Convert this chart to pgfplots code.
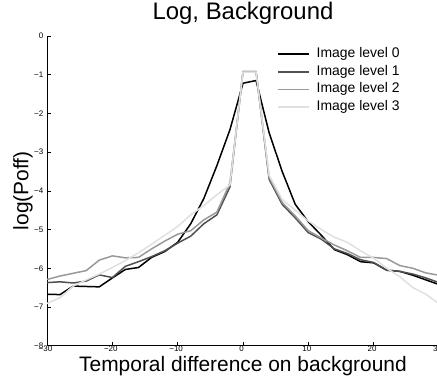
\documentclass[border=0pt]{standalone}
\usepackage{fontspec}
\setmainfont{Liberation Sans}
\usepackage{pgfplots}
\pgfplotsset{compat=1.18}
\usepackage{pgfplotstable}
\definecolor{lvA}{HTML}{505050}
\definecolor{lvB}{HTML}{999999}
\definecolor{lvC}{HTML}{E0E0E0}
\pgfplotstableread{
x l0 l1 l2 l3
-30 -6.67 -6.37 -6.29 -6.91
-28 -6.68 -6.35 -6.20 -6.76
-26 -6.46 -6.38 -6.13 -6.46
-24 -6.47 -6.33 -6.06 -6.30
-22 -6.48 -6.17 -5.79 -6.15
-20 -6.25 -6.24 -5.68 -5.98
-18 -6.03 -5.95 -5.73 -5.80
-16 -5.98 -5.83 -5.72 -5.60
-14 -5.72 -5.70 -5.50 -5.38
-12 -5.57 -5.55 -5.30 -5.15
-10 -5.33 -5.35 -5.12 -4.92
-8 -4.85 -5.17 -5.03 -4.62
-6 -4.20 -4.85 -4.75 -4.38
-4 -3.35 -4.62 -4.55 -4.10
-2 -2.42 -3.90 -3.80 -3.85
0 -1.22 -0.92 -0.92 -0.93
2 -1.15 -0.92 -0.92 -0.93
4 -2.50 -3.70 -3.65 -3.60
6 -3.50 -4.35 -4.30 -4.22
8 -4.35 -4.70 -4.65 -4.50
10 -4.80 -5.08 -5.03 -4.78
12 -5.15 -5.25 -5.22 -5.00
14 -5.52 -5.50 -5.40 -5.20
16 -5.65 -5.62 -5.55 -5.33
18 -5.83 -5.78 -5.72 -5.55
20 -5.86 -5.85 -5.72 -5.74
22 -6.05 -6.05 -5.75 -6.00
24 -6.08 -6.08 -5.93 -6.22
26 -6.18 -6.15 -6.00 -6.50
28 -6.30 -6.25 -6.12 -6.67
30 -6.42 -6.37 -6.18 -6.92
}\data
\begin{document}
\begin{tikzpicture}
\begin{axis}[
  scale only axis, width=392bp, height=309.7bp,
  at={(0,0)}, anchor=south west,
  xmin=-30, xmax=30, ymin=-8, ymax=0,
  xtick={-30,-20,...,30}, ytick={-8,-7,...,0},
  xticklabels={−30,−20,−10,0,10,20,30},
  yticklabels={−8,−7,−6,−5,−4,−3,−2,−1,0},
  axis x line=bottom, axis y line=left,
  axis line style={-, line width=0.8bp},
  tick align=inside, major tick length=4bp,
  tick style={line width=0.6bp, black},
  ticklabel style={font=\fontsize{8}{9}\selectfont},
  xticklabel style={inner sep=0.5bp, xshift=-1.5bp},
  yticklabel style={inner sep=0pt, xshift=-3.5bp},
  title={Log, Background},
  title style={at={(axis description cs:0.5,1)}, anchor=north, yshift=27.7bp, inner sep=0pt, font=\fontsize{24}{26}\selectfont},
  xlabel={Temporal difference on background},
  xlabel style={at={(axis description cs:0.5,0)}, anchor=north, yshift=-10bp, inner sep=0pt, font=\fontsize{21}{23}\selectfont},
  ylabel={log(Poff)},
  ylabel style={at={([xshift=-14bp]axis description cs:0,0.5)}, rotate=0, anchor=south, inner sep=0pt, font=\fontsize{21}{23}\selectfont},
  legend style={at={(axis description cs:0.5867,0.963)}, anchor=north west, draw=none, fill=none, inner sep=0pt,
    font=\fontsize{14}{16}\selectfont, row sep=4.6bp, column sep=7bp,
    nodes={inner sep=0pt, text height=10bp, text depth=3bp}},
  legend cell align=left,
  legend image code/.code={\draw[#1] (0bp,0bp) -- (31bp,0bp);},
  every axis plot/.append style={line width=1.5bp},
]
\addplot[black] table[x=x,y=l0]{\data};
\addplot[lvA] table[x=x,y=l1]{\data};
\addplot[lvB] table[x=x,y=l2]{\data};
\addplot[lvC] table[x=x,y=l3]{\data};
\legend{Image level 0, Image level 1, Image level 2, Image level 3}
\end{axis}
\pgfresetboundingbox
\useasboundingbox (-47bp,-37.3bp) rectangle (390bp,345.7bp);
\end{tikzpicture}
\end{document}
